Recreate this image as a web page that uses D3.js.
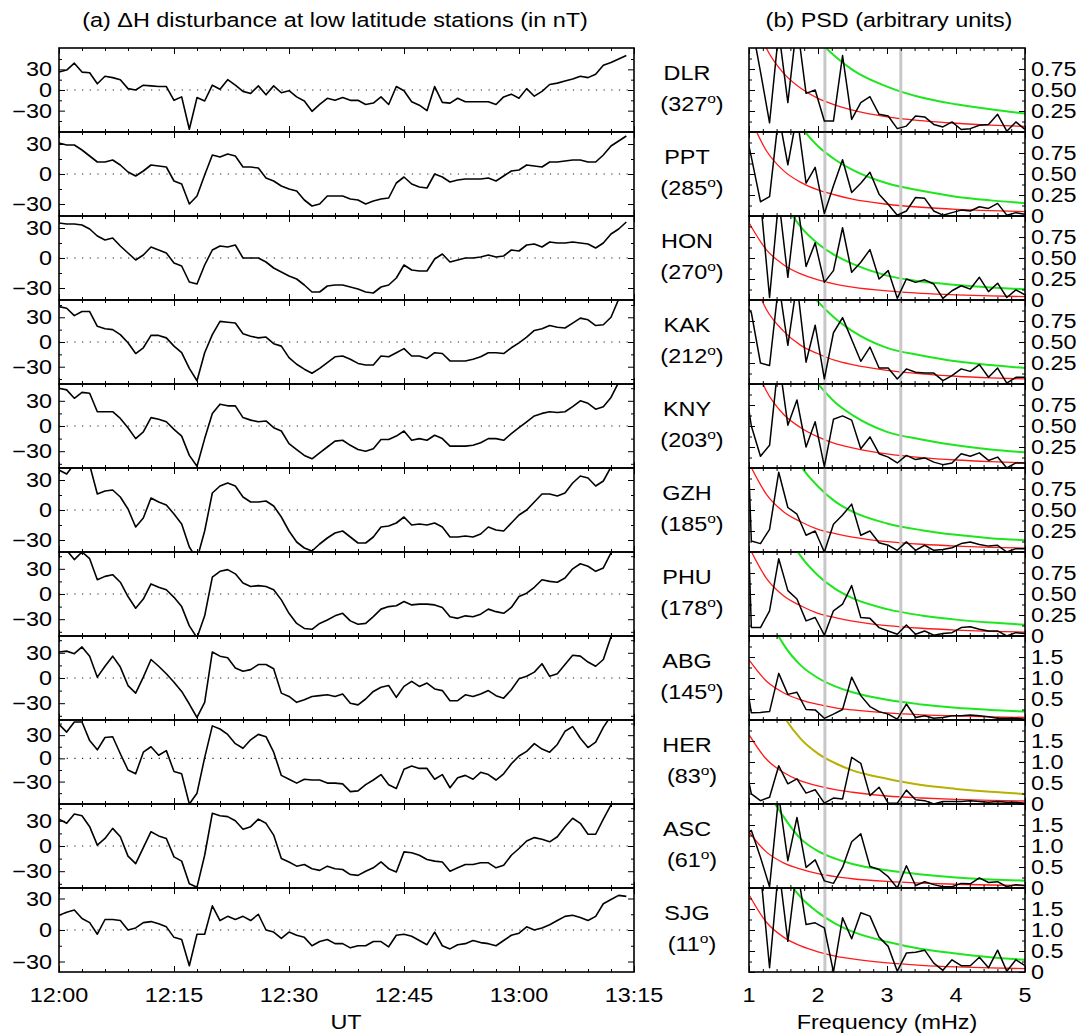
<!DOCTYPE html>
<html>
<head>
<meta charset="utf-8">
<script src="https://cdn.jsdelivr.net/npm/d3@7"></script>
<style>
body { margin: 0; background: #fff; }
text { font-family: "Liberation Sans", Arial, Helvetica, sans-serif; fill: #000; }
</style>
</head>
<body>
<svg id="chart" width="1081" height="1036"></svg>
<script>
// stations and their longitudes
const stations = ["DLR", "PPT", "HON", "KAK", "KNY", "GZH", "PHU", "ABG", "HER", "ASC", "SJG"];
const stationLon = ["327", "285", "270", "212", "203", "185", "178", "145", "83", "61", "11"];
const timeLabels = ["12:00", "12:15", "12:30", "12:45", "13:00", "13:15"];

// delta H, one value per minute from 12:00 (nT)
const dDLR = [26,29,39,26,25,9,20,18,15,2, 0,7,6,5,5,-15,-10,-57,-11,-16, 7,1,15,7,-2,-5,6,-7,6,-4,
  -1,-10,-16,-31,-21,-12,-15,-11,-15,-15, -21,-19,-10,-21,5,-1,-17,-22,-30,5, -18,-19,-12,-17,-17,-17,-17,-21,-10,-6,
  -12,2,-9,-2,8,10,13,16,20,18, 23,36,40,45,50];
const dPPT = [31,29,29,24,18,12,12,14,9,2, -2,3,9,8,7,-7,-10,-30,-22,-1, 19,17,20,18,7,7,6,-4,-7,-12,
  -15,-17,-26,-32,-30,-22,-22,-22,-25,-26, -30,-27,-25,-24,-9,-3,-10,-13,-14,0, -3,-8,-6,-5,-5,-5,-4,-7,-2,3,
  4,9,8,7,12,12,13,14,14,12, 12,19,28,33,38];
const dHON = [35,34,34,33,29,22,18,20,12,5, -2,3,11,8,5,-5,-8,-24,-26,-7, 8,12,11,13,0,0,0,-4,-10,-14,
  -18,-21,-27,-34,-34,-28,-27,-27,-29,-31, -34,-35,-29,-27,-20,-7,-12,-13,-13,-1, 4,-4,-2,0,0,1,3,1,2,8,
  7,13,14,11,16,15,15,16,15,14, 10,15,24,29,36];
const dKAK = [43,41,32,37,37,19,16,15,9,-1, -14,-7,8,8,5,-5,-13,-32,-47,-13, 9,25,24,23,10,7,5,6,-2,-5,
  -19,-27,-33,-38,-32,-25,-18,-17,-21,-26, -28,-28,-17,-18,-13,-8,-17,-17,-20,-13, -14,-23,-23,-23,-21,-18,-13,-13,-14,-7,
  -1,6,14,16,20,18,17,23,29,27, 20,21,30,52,62];
const dKNY = [45,43,33,40,39,17,17,17,9,-2, -15,-7,10,8,5,-4,-12,-35,-48,-15, 15,26,24,24,10,7,5,6,-2,-6,
  -21,-28,-35,-39,-32,-25,-18,-17,-23,-28, -30,-27,-16,-16,-12,-6,-17,-15,-17,-11, -15,-24,-24,-24,-23,-20,-15,-15,-17,-9,
  -2,5,12,15,17,16,17,23,30,27, 20,23,34,52,62];
const dGZH = [40,36,46,48,45,16,19,20,13,1, -17,-8,12,8,5,-4,-14,-37,-49,-21, 17,24,27,24,13,8,8,9,4,-7,
  -21,-32,-38,-41,-34,-28,-23,-21,-27,-33, -33,-27,-17,-16,-13,-7,-15,-14,-15,-13, -17,-27,-27,-26,-27,-24,-17,-20,-21,-13,
  -5,0,8,16,16,14,17,27,34,32, 24,29,43,52,60];
const dPHU = [55,52,41,50,42,17,21,23,14,-3, -17,-6,12,8,5,-4,-15,-38,-52,-26, 20,27,29,24,13,9,10,9,5,-7,
  -23,-35,-41,-42,-35,-31,-26,-23,-32,-36, -35,-27,-18,-15,-14,-9,-13,-12,-12,-13, -16,-27,-29,-26,-27,-24,-18,-21,-23,-16,
  -3,1,8,17,15,14,19,30,36,33, 27,31,49,58,62];
const dABG = [31,32,29,37,26,1,14,26,13,-9, -18,1,22,14,5,-5,-16,-31,-47,-29, 31,26,24,12,8,10,16,16,11,-18,
  -22,-29,-26,-22,-21,-20,-22,-19,-30,-32, -25,-16,-11,-9,-23,-10,-4,-10,-6,-13, -15,-27,-27,-20,-22,-19,-15,-21,-24,-14,
  -1,2,7,17,2,5,16,27,26,19, 14,22,49,60,65];
const dHER = [44,34,47,47,23,11,27,28,6,-15, -20,8,15,4,10,-17,-20,-59,-45,1, 42,38,31,19,13,24,31,28,8,-22,
  -27,-32,-27,-28,-28,-32,-32,-33,-43,-42, -34,-28,-21,-34,-39,-14,-10,-13,-13,-27, -21,-38,-25,-22,-27,-18,-21,-28,-20,-7,
  3,9,19,12,8,18,35,41,26,14, 21,40,55,62,65];
const dASC = [32,27,38,36,23,1,9,21,11,-12, -21,-2,17,12,9,-13,-18,-45,-49,-11, 39,36,35,30,20,23,32,27,13,-15,
  -19,-24,-22,-27,-29,-24,-27,-28,-34,-35, -30,-26,-19,-27,-31,-7,-8,-11,-16,-18, -19,-30,-26,-22,-22,-20,-20,-26,-23,-11,
  -3,6,10,8,5,11,23,33,27,14, 14,32,49,60,65];
const dSJG = [14,17,19,11,7,-4,10,10,9,0, 2,7,8,6,3,-7,-9,-34,-4,-4, 23,9,13,10,13,9,15,0,-2,-8,
  -2,-5,-7,-15,-11,-9,-13,-13,-17,-15, -15,-11,-11,-16,-5,-4,-6,-10,-14,-2, -15,-18,-14,-13,-10,-12,-13,-15,-10,-5,
  -3,3,0,2,5,9,13,14,12,9, 13,25,29,33,32];

// PSD spectra (mHz, arbitrary units)
const freqs = [0.902,1.034,1.166,1.298,1.431,1.563,1.695,1.827,1.959,2.092,2.224,2.356,2.488,2.620,2.753,2.885,
  3.017,3.149,3.281,3.414,3.546,3.678,3.810,3.942,4.075,4.207,4.339,4.471,4.603,4.736,4.868,5.000];
const pDLR = [1.5,1.3,0.72,0.11,1.2,0.35,1.3,0.46,0.50,0.13,0.13,0.91,0.15,0.35,0.42,0.21,0.19,0.04,0.07,0.19,0.18,0.09,0.06,0.12,0.03,0.04,0.08,0.09,0.21,0.01,0.12,0.03];
const pPPT = [1.2,0.7,0.17,0.23,1.2,0.61,1.2,0.39,0.58,0.03,0.36,0.67,0.28,0.39,0.52,0.26,0.14,0.01,0.06,0.22,0.21,0.06,0.01,0.04,0.07,0.06,0.11,0.09,0.15,0.01,0.04,0.02];
const pHON = [1.5,1.3,1.2,0.03,1.2,0.27,1.2,0.40,0.68,0.21,0.35,0.86,0.33,0.45,0.60,0.25,0.35,0.02,0.25,0.21,0.24,0.19,0.02,0.11,0.17,0.13,0.27,0.10,0.20,0.03,0.12,0.06];
const pKAK = [1.0,0.85,0.25,0.22,1.2,0.46,1.2,0.26,0.70,0.06,0.61,0.79,0.53,0.27,0.44,0.19,0.19,0.06,0.18,0.14,0.13,0.13,0.04,0.10,0.18,0.15,0.23,0.08,0.19,0.01,0.08,0.08];
const pKNY = [1.2,0.5,0.14,0.27,1.3,0.51,0.81,0.25,0.55,0.02,0.58,0.62,0.57,0.23,0.37,0.17,0.13,0.06,0.15,0.10,0.12,0.07,0.04,0.06,0.17,0.14,0.18,0.09,0.13,0.0,0.06,0.06];
const pGZH = [3.2,0.13,0.10,0.27,0.95,0.53,0.45,0.20,0.25,0.0,0.33,0.44,0.57,0.20,0.25,0.11,0.08,0.02,0.12,0.02,0.08,0.02,0.03,0.05,0.10,0.12,0.09,0.07,0.08,0.0,0.04,0.04];
const pPHU = [3.5,0.1,0.1,0.3,0.92,0.54,0.44,0.18,0.22,0.01,0.30,0.38,0.60,0.22,0.21,0.10,0.06,0.02,0.13,0.02,0.06,0.01,0.03,0.04,0.10,0.11,0.08,0.06,0.06,0.0,0.04,0.03];
const pABG = [1.5,0.17,0.18,0.2,1.11,0.61,0.66,0.25,0.24,0.04,0.14,0.25,1.02,0.58,0.32,0.2,0.14,0.02,0.38,0.06,0.10,0.04,0.06,0.10,0.10,0.12,0.10,0.08,0.04,0.04,0.04,0.02];
const pHER = [1.3,0.24,0.08,0.16,0.91,0.48,0.60,0.26,0.34,0.02,0.14,0.12,1.11,0.97,0.2,0.4,0.02,0.02,0.33,0.10,0.08,0.0,0.06,0.06,0.06,0.08,0.06,0.04,0.06,0.04,0.04,0.02];
const pASC = [1.2,1.37,0.73,0.03,2.2,0.65,1.68,0.49,0.67,0.17,0.11,0.49,1.10,1.29,0.51,0.44,0.27,0.0,0.53,0.06,0.15,0.08,0.03,0.03,0.11,0.10,0.24,0.13,0.15,0.03,0.08,0.06];
const pSJG = [3.0,2.5,2.4,0.1,2.5,0.73,2.5,1.13,1.17,1.05,0.0,1.29,0.79,1.41,1.33,0.83,0.61,0.02,0.45,0.47,0.52,0.21,0.04,0.29,0.15,0.15,0.35,0.1,0.52,0.02,0.29,0.15];

// background (red) and confidence (green) curves
const curveFreqs = [1, 1.25, 1.5, 1.75, 2, 2.25, 2.5, 3, 3.5, 4, 4.5, 5];
const rDLR = [1.55,1.00,0.70,0.52,0.40,0.32,0.26,0.18,0.135,0.104,0.082,0.067];
const rPPT = [1.2,0.78,0.54,0.40,0.31,0.25,0.20,0.14,0.104,0.080,0.064,0.052];
const rHON = [0.92,0.60,0.42,0.31,0.24,0.19,0.154,0.108,0.080,0.062,0.049,0.040];
const rKAK = [1.38,0.89,0.63,0.46,0.36,0.28,0.23,0.162,0.12,0.092,0.073,0.060];
const rKNY = [1.42,0.92,0.64,0.48,0.37,0.29,0.24,0.167,0.123,0.095,0.076,0.062];
const rGZH = [1.06,0.69,0.48,0.36,0.27,0.22,0.178,0.124,0.092,0.071,0.056,0.046];
const rPHU = [1.06,0.69,0.48,0.36,0.27,0.22,0.178,0.124,0.092,0.071,0.056,0.046];
const rABG = [1.43,0.93,0.65,0.48,0.37,0.29,0.24,0.168,0.124,0.096,0.076,0.062];
const rHER = [1.65,1.07,0.75,0.55,0.43,0.34,0.28,0.19,0.143,0.11,0.088,0.072];
const rASC = [1.33,0.86,0.60,0.45,0.34,0.27,0.22,0.156,0.116,0.089,0.071,0.058];
const rSJG = [1.84,1.19,0.83,0.62,0.48,0.38,0.31,0.216,0.16,0.123,0.098,0.080];
const gDLR = [3.7,2.5,1.82,1.39,1.10,0.90,0.74,0.54,0.41,0.33,0.27,0.22];
const gPPT = [3.0,1.99,1.42,1.07,0.83,0.67,0.55,0.39,0.30,0.23,0.186,0.153];
const gHON = [2.6,1.7,1.18,0.87,0.67,0.53,0.43,0.29,0.22,0.18,0.15,0.127];
const gKAK = [3.6,2.4,1.65,1.25,0.98,0.78,0.63,0.43,0.34,0.27,0.225,0.19];
const gKNY = [3.6,2.4,1.65,1.25,1.0,0.78,0.63,0.43,0.34,0.27,0.22,0.187];
const gGZH = [3.0,2.0,1.35,1.02,0.78,0.60,0.48,0.34,0.26,0.205,0.165,0.14];
const gPHU = [2.9,1.9,1.3,0.95,0.72,0.56,0.45,0.32,0.245,0.195,0.16,0.135];
const gABG = [3.9,2.6,1.8,1.3,1.0,0.80,0.66,0.48,0.37,0.29,0.24,0.20];
const gHER = [4.2,2.9,2.1,1.55,1.2,0.97,0.80,0.60,0.45,0.36,0.29,0.24];
const gASC = [3.6,2.4,1.7,1.17,0.88,0.70,0.57,0.42,0.32,0.25,0.205,0.175];
const gSJG = [5.0,3.3,2.35,1.78,1.42,1.15,0.96,0.72,0.55,0.44,0.35,0.29];
const markFreqs = [2.1, 3.2];

const dH = [dDLR, dPPT, dHON, dKAK, dKNY, dGZH, dPHU, dABG, dHER, dASC, dSJG];
const psd = [pDLR, pPPT, pHON, pKAK, pKNY, pGZH, pPHU, pABG, pHER, pASC, pSJG];
const red = [rDLR, rPPT, rHON, rKAK, rKNY, rGZH, rPHU, rABG, rHER, rASC, rSJG];
const green = [gDLR, gPPT, gHON, gKAK, gKNY, gGZH, gPHU, gABG, gHER, gASC, gSJG];

// per-row axis limits
const hLims = [[-61,61],[-42,42],[-42,42],[-51,51],[-50,50],[-42,42],[-50,50],[-50,50],[-59,49.6],[-50,50],[-40,40]];
const pMax = [1,1,1,1,1,1,1,2,2,2,2];
const pLabSmall = ["0", "0.25", "0.50", "0.75"];
const pLabBig = ["0", "0.5", "1.0", "1.5"];

const svg = d3.select("#chart");
const top0 = 48, rowH = 84;
const xT = d3.scaleLinear().domain([0, 75]).range([59, 634]);
const xF = d3.scaleLinear().domain([1, 5]).range([749, 1025]);
const FS = 19.5, SX = 1.2;

function txt(g, x, y, s, anchor, size) {
  return g.append("text")
    .attr("transform", `translate(${x},${y}) scale(${SX},1)`)
    .attr("text-anchor", anchor)
    .attr("font-size", size || FS)
    .text(s);
}

function tickSet(g, axisFn, scale, vals, size, tr) {
  g.append("g").attr("transform", tr)
    .call(axisFn(scale).tickValues(vals).tickSize(-size).tickFormat(""))
    .call(a => a.select(".domain").remove())
    .selectAll("line").attr("stroke", "#000").attr("stroke-width", 1);
}

// titles
txt(svg, 335, 27, "(a) \u0394H disturbance at low latitude stations (in nT)", "middle", 19.5);
txt(svg, 889, 27, "(b) PSD (arbitrary units)", "middle", 19.5);

const defs = svg.append("defs");

stations.forEach((st, i) => {
  const y0 = top0 + i * rowH, y1 = y0 + rowH;
  const g = svg.append("g");

  // ---- left: delta H
  const yH = d3.scaleLinear().domain(hLims[i]).range([y1, y0]);
  defs.append("clipPath").attr("id", "cl" + i)
    .append("rect").attr("x", 59).attr("y", y0).attr("width", 575).attr("height", rowH);

  g.append("line")
    .attr("x1", 59).attr("x2", 634).attr("y1", yH(0)).attr("y2", yH(0))
    .attr("stroke", "#222").attr("stroke-width", 1.2).attr("stroke-dasharray", "1.2,6.47");

  g.append("path").datum(dH[i])
    .attr("clip-path", `url(#cl${i})`)
    .attr("fill", "none").attr("stroke", "#000").attr("stroke-width", 1.6)
    .attr("stroke-linejoin", "round")
    .attr("d", d3.line().x((d, k) => xT(k)).y(d => yH(d)));

  const minT = d3.range(0, 76, 3), majT = d3.range(0, 76, 15);
  tickSet(g, d3.axisBottom, xT, minT, 3, `translate(0,${y1})`);
  tickSet(g, d3.axisBottom, xT, majT, 6, `translate(0,${y1})`);
  tickSet(g, d3.axisTop, xT, minT, 3, `translate(0,${y0})`);
  tickSet(g, d3.axisTop, xT, majT, 6, `translate(0,${y0})`);
  const lo = hLims[i][0], hi = hLims[i][1];
  const minY = [-45, -15, 15, 45].filter(v => v > lo && v < hi);
  const majY = [-30, 0, 30];
  tickSet(g, d3.axisLeft, yH, minY, 3, "translate(59,0)");
  tickSet(g, d3.axisLeft, yH, majY, 6, "translate(59,0)");
  tickSet(g, d3.axisRight, yH, minY, 3, "translate(634,0)");
  tickSet(g, d3.axisRight, yH, majY, 6, "translate(634,0)");
  majY.forEach(v => {
    txt(g, 52, yH(v), v < 0 ? "\u2212" + Math.abs(v) : String(v), "end").attr("dy", "0.36em");
  });

  g.append("rect").attr("x", 59).attr("y", y0).attr("width", 575).attr("height", rowH)
    .attr("fill", "none").attr("stroke", "#000").attr("stroke-width", 1.6);

  // ---- station label
  txt(g, 687, y0 + 24.5, st, "middle").attr("dy", "0.36em");
  const t = txt(g, 692, y0 + 55.5, "", "middle").attr("dy", "0.36em");
  t.append("tspan").text("(" + stationLon[i]);
  t.append("tspan").attr("font-size", 13).attr("dy", -8).text("o");
  t.append("tspan").attr("dy", 8).text(")");

  // ---- right: PSD
  const yP = d3.scaleLinear().domain([0, pMax[i]]).range([y1, y0]);
  defs.append("clipPath").attr("id", "cr" + i)
    .append("rect").attr("x", 749).attr("y", y0).attr("width", 276).attr("height", rowH);
  const pg = g.append("g").attr("clip-path", `url(#cr${i})`);
  const cLine = d3.line().curve(d3.curveMonotoneX).x((d, k) => xF(curveFreqs[k])).y(d => yP(d));
  pg.append("path").datum(red[i]).attr("fill", "none").attr("stroke", "#ff1a1a").attr("stroke-width", 1.3).attr("d", cLine);
  pg.append("path").datum(green[i]).attr("fill", "none")
    .attr("stroke", st === "HER" ? "#b8b000" : "#1ee61e").attr("stroke-width", 2).attr("d", cLine);
  markFreqs.forEach(f => {
    pg.append("line").attr("x1", xF(f)).attr("x2", xF(f)).attr("y1", y0).attr("y2", y1)
      .attr("stroke", "#c8c8c8").attr("stroke-width", 3);
  });
  pg.append("path").datum(psd[i]).attr("fill", "none").attr("stroke", "#000").attr("stroke-width", 1.5)
    .attr("stroke-linejoin", "round")
    .attr("d", d3.line().x((d, k) => xF(freqs[k])).y(d => yP(d)));

  const minF = d3.range(1, 5.01, 0.2), majF = [1, 2, 3, 4, 5];
  tickSet(g, d3.axisBottom, xF, minF, 3, `translate(0,${y1})`);
  tickSet(g, d3.axisBottom, xF, majF, 6, `translate(0,${y1})`);
  tickSet(g, d3.axisTop, xF, minF, 3, `translate(0,${y0})`);
  tickSet(g, d3.axisTop, xF, majF, 6, `translate(0,${y0})`);
  const step = pMax[i] / 4;
  const majP = [0, step, 2 * step, 3 * step];
  const minP = [0.5, 1.5, 2.5, 3.5].map(v => v * step);
  tickSet(g, d3.axisLeft, yP, minP, 3, "translate(749,0)");
  tickSet(g, d3.axisLeft, yP, majP, 6, "translate(749,0)");
  tickSet(g, d3.axisRight, yP, minP, 3, "translate(1025,0)");
  tickSet(g, d3.axisRight, yP, majP, 6, "translate(1025,0)");
  const labs = pMax[i] === 1 ? pLabSmall : pLabBig;
  majP.forEach((v, k) => txt(g, 1031, yP(v), labs[k], "start").attr("dy", "0.36em"));

  g.append("rect").attr("x", 749).attr("y", y0).attr("width", 276).attr("height", rowH)
    .attr("fill", "none").attr("stroke", "#000").attr("stroke-width", 1.6);
});

// bottom axis labels
const yB = top0 + stations.length * rowH;
timeLabels.forEach((s, k) => txt(svg, xT(k * 15), yB + 30, s, "middle"));
[1, 2, 3, 4, 5].forEach(f => txt(svg, xF(f), yB + 30, String(f), "middle"));
txt(svg, 346, yB + 57, "UT", "middle");
txt(svg, 887, yB + 57, "Frequency (mHz)", "middle");
</script>
</body>
</html>
